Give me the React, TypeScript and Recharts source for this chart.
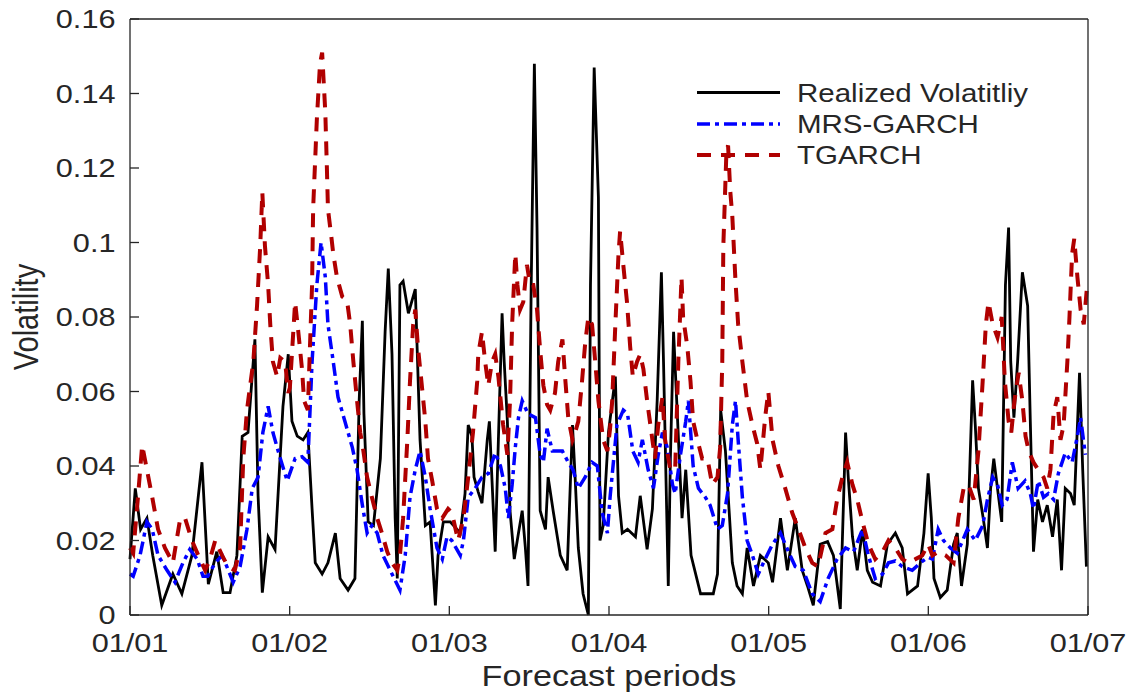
import React from 'react';
import { LineChart, Line, XAxis, YAxis } from 'recharts';

// axis ticks: day index from 01/01; the month ticks are evenly spaced in the figure
const monthTicks = [0, 30.17, 60.33, 90.5, 120.67, 150.83, 181];
const monthLabels = ['01/01', '01/02', '01/03', '01/04', '01/05', '01/06', '01/07'];
const volTicks = [0, 0.02, 0.04, 0.06, 0.08, 0.1, 0.12, 0.14, 0.16];
const volLabels = ['0', '0.02', '0.04', '0.06', '0.08', '0.1', '0.12', '0.14', '0.16'];

// Realized volatility
const rvDays = [
  0, 1, 2, 3.2, 4.3, 6, 8.1, 9.8, 11.7, 13.6, 14.8, 16.4, 17.6, 18.9, 20.2, 21.2, 22.3, 23.6, 24.2, 25,
  26.1, 27.4, 28.9, 29.9, 30.6, 31.6, 32.7, 33.6, 34.4, 35, 36.3, 37.4, 38.8, 39.7, 41.2, 42.5, 43.3, 43.9, 44.2, 45,
  46, 47.3, 48.2, 48.8, 49.5, 50.1, 50.5, 51, 51.6, 52.6, 53.9, 54.8, 55.8, 56.7, 57.7, 58.2, 59.2, 60.5, 62.4, 63.3,
  63.9, 64.6, 65, 65.8, 66.5, 67.5, 67.9, 68.4, 69, 69.6, 70.3, 70.7, 71.3, 71.8, 72.6, 73.4, 74.1, 74.7, 75.2, 75.8,
  76.4, 76.9, 77.5, 78.5, 79, 80, 81.3, 82.6, 83.6, 84.1, 84.7, 85.6, 86.6, 87, 87.7, 88.5, 88.8, 89.4, 90.4, 91.7,
  92.3, 93, 94, 95.5, 96.4, 97.7, 98.7, 99.6, 100.4, 100.8, 101.7, 102.1, 102.7, 104.3, 105, 106, 107.8, 110.2, 111, 111.6,
  112.5, 113.8, 114.7, 115.7, 116.6, 117.8, 119.1, 120.6, 121.4, 122.9, 124.2, 125.7, 127, 128, 129.1, 130.4, 131.8, 132.9, 134.2, 135.2,
  135.7, 136.5, 137.4, 138.4, 139.3, 140.3, 141.8, 143.1, 144.6, 145.9, 146.9, 148.8, 150, 150.8, 151.4, 151.9, 153.1, 154.4, 155.6, 156.3,
  157.1, 158.2, 159.2, 159.7, 160.3, 161.2, 162, 162.6, 163.2, 163.9, 164.7, 165.4, 166, 166.4, 167, 167.7, 168.6, 169.6, 170.1, 170.7,
  171.5, 172.4, 173.3, 174.3, 175.2, 176, 176.7, 177.7, 178.4, 179.4, 180, 180.7,
];
const rvValues = [
  0.015, 0.034, 0.023, 0.026, 0.016, 0.0026, 0.011, 0.0057, 0.016, 0.041, 0.0083, 0.017, 0.006, 0.006, 0.016, 0.048, 0.049, 0.074, 0.032, 0.006,
  0.021, 0.0176, 0.056, 0.07, 0.052, 0.048, 0.047, 0.049, 0.0285, 0.014, 0.011, 0.014, 0.022, 0.0098, 0.0067, 0.0098, 0.0575, 0.079, 0.054, 0.025,
  0.024, 0.042, 0.076, 0.093, 0.07, 0.026, 0.0098, 0.0886, 0.0896, 0.081, 0.0875, 0.047, 0.024, 0.025, 0.0026, 0.016, 0.025, 0.025, 0.022, 0.0326,
  0.051, 0.048, 0.037, 0.033, 0.03, 0.047, 0.052, 0.036, 0.017, 0.047, 0.081, 0.068, 0.052, 0.028, 0.015, 0.022, 0.028, 0.018, 0.0078, 0.0886,
  0.148, 0.104, 0.028, 0.023, 0.037, 0.0275, 0.016, 0.012, 0.051, 0.037, 0.018, 0.0057, 0, 0.0886, 0.147, 0.112, 0.02, 0.024, 0.049, 0.064,
  0.032, 0.022, 0.023, 0.021, 0.032, 0.0176, 0.0285, 0.0575, 0.092, 0.068, 0.0078, 0.042, 0.076, 0.026, 0.039, 0.016, 0.0057, 0.0057, 0.011, 0.055,
  0.044, 0.014, 0.0078, 0.0057, 0.018, 0.0078, 0.016, 0.014, 0.0088, 0.026, 0.012, 0.026, 0.012, 0.0078, 0.0026, 0.019, 0.0197, 0.016, 0.0016, 0.049,
  0.037, 0.021, 0.012, 0.023, 0.012, 0.0088, 0.0078, 0.019, 0.022, 0.018, 0.0057, 0.0078, 0.022, 0.038, 0.026, 0.0098, 0.0047, 0.0067, 0.019, 0.022,
  0.0078, 0.019, 0.063, 0.051, 0.034, 0.026, 0.018, 0.034, 0.042, 0.034, 0.025, 0.0886, 0.104, 0.068, 0.053, 0.068, 0.092, 0.083, 0.052, 0.017,
  0.031, 0.025, 0.0295, 0.021, 0.031, 0.012, 0.034, 0.0326, 0.0295, 0.065, 0.039, 0.013,
];

// MRS-GARCH forecast
const mrsDays = [
  0, 0.6, 1.9, 3.2, 4.2, 5.3, 7, 8.5, 10, 11.3, 12.7, 13.8, 14.7, 16.1, 17.4, 18.3, 19.5, 20.8, 22.1, 23.1,
  24.2, 25.1, 26.1, 27, 28.4, 29.7, 31.2, 32.5, 33.6, 34.4, 35.3, 36.1, 36.9, 37.4, 38.4, 39.3, 40.6, 42, 42.9, 43.9,
  44.8, 45.7, 46.7, 47.8, 49.5, 51, 52, 52.9, 53.9, 54.8, 55.8, 56.7, 58, 59, 59.9, 60.8, 62.4, 63, 63.9, 65.2,
  66.5, 67.7, 69, 70, 70.9, 71.5, 72.2, 72.8, 73.4, 74.1, 75.2, 76.6, 77.5, 78.1, 78.8, 79.8, 80.7, 81.7, 82.8, 83.7,
  84.7, 86, 87.3, 88.3, 89.2, 90.2, 90.7, 92, 93.2, 94, 95, 96, 96.8, 97.9, 98.9, 99.8, 100.6, 101.5, 102.5, 103,
  104, 105, 105.5, 106.4, 107.4, 108.7, 109.6, 111, 111.9, 112.9, 113.8, 114.4, 114.9, 115.7, 116.6, 117.6, 118.7, 120, 121.4, 122.9,
  124.4, 125.7, 127.2, 128.9, 130.4, 131.9, 133.6, 135.2, 136.7, 138.4, 139.5, 140.8, 142.2, 143.3, 144.6, 145.9, 147.8, 149.3, 150.8, 151.6,
  152.7, 153.7, 155, 156.3, 158.2, 159.7, 161.1, 162, 163, 163.9, 164.8, 165.7, 166.7, 167.8, 169.1, 170.1, 170.7, 171.6, 172.6, 173.5,
  174.5, 175.4, 176.7, 178, 179, 179.6, 180.5,
];
const mrsValues = [
  0.011, 0.0104, 0.016, 0.025, 0.023, 0.016, 0.012, 0.0088, 0.014, 0.0176, 0.015, 0.0104, 0.0104, 0.014, 0.016, 0.013, 0.0088, 0.013, 0.023, 0.034,
  0.037, 0.049, 0.056, 0.049, 0.042, 0.036, 0.042, 0.0425, 0.041, 0.068, 0.0886, 0.1, 0.0907, 0.078, 0.068, 0.0585, 0.052, 0.045, 0.039, 0.0295,
  0.022, 0.024, 0.022, 0.016, 0.011, 0.0067, 0.016, 0.0316, 0.039, 0.044, 0.037, 0.0285, 0.018, 0.015, 0.021, 0.02, 0.016, 0.02, 0.0316, 0.034,
  0.037, 0.038, 0.0435, 0.04, 0.034, 0.026, 0.035, 0.045, 0.053, 0.0575, 0.054, 0.053, 0.043, 0.041, 0.05, 0.044, 0.044, 0.044, 0.041, 0.039,
  0.034, 0.037, 0.041, 0.04, 0.0275, 0.022, 0.0316, 0.051, 0.055, 0.054, 0.044, 0.041, 0.047, 0.039, 0.034, 0.043, 0.049, 0.045, 0.035, 0.0326,
  0.043, 0.052, 0.0575, 0.04, 0.034, 0.0316, 0.0295, 0.023, 0.024, 0.0326, 0.051, 0.0575, 0.047, 0.0316, 0.02, 0.016, 0.011, 0.015, 0.019, 0.022,
  0.017, 0.013, 0.012, 0.0057, 0.0036, 0.0098, 0.015, 0.018, 0.017, 0.023, 0.016, 0.0098, 0.011, 0.014, 0.0145, 0.013, 0.012, 0.014, 0.0155, 0.015,
  0.023, 0.02, 0.018, 0.0166, 0.023, 0.02, 0.024, 0.031, 0.037, 0.035, 0.0295, 0.031, 0.041, 0.034, 0.036, 0.0326, 0.0285, 0.036, 0.0316, 0.0326,
  0.031, 0.038, 0.0435, 0.041, 0.048, 0.053, 0.043,
];

// TGARCH forecast
const tgDays = [
  0, 0.6, 1.5, 2.3, 3.2, 4.2, 5.3, 6.6, 8.1, 9.5, 10.4, 11.7, 12.9, 14.2, 15.1, 16.1, 17.4, 18.5, 19.8, 20.8,
  21.4, 22.1, 22.7, 23.3, 24, 24.6, 25, 25.5, 26.1, 26.5, 27, 27.8, 28.4, 29.3, 29.9, 30.2, 31.2, 31.8, 32.5, 32.9,
  33.6, 34, 34.4, 34.6, 35.3, 35.9, 36.3, 36.9, 37.2, 37.4, 38, 38.4, 39.1, 40.1, 41, 41.6, 42.2, 42.9, 43.5, 44.1,
  44.8, 45.7, 46.7, 47.6, 48.6, 49.5, 50.5, 51, 51.6, 52.4, 52.9, 53.5, 53.9, 54.4, 55.2, 55.8, 56.3, 57.1, 58, 59,
  60.1, 60.8, 62, 63, 63.9, 64.8, 65.6, 65.8, 66.5, 67.1, 67.7, 68.4, 69, 69.6, 70.5, 71.3, 71.8, 72.2, 72.8, 73.2,
  73.7, 74.3, 75, 75.6, 76.2, 76.9, 77.5, 78.1, 78.8, 79.4, 80.3, 80.9, 81.7, 82.2, 82.8, 83.6, 84.1, 84.7, 85.4, 86,
  86.6, 87.3, 87.9, 88.5, 89.4, 90.2, 90.7, 91.1, 91.7, 92.3, 92.6, 93.2, 93.9, 94.5, 95, 95.8, 96.4, 97, 97.7, 98.7,
  99.2, 99.8, 100.6, 101.1, 102.1, 103, 103.6, 104.2, 104.5, 105.3, 105.9, 106.4, 107.2, 108.1, 109.1, 110, 111, 111.5, 111.9, 112.1,
  112.7, 113, 113.4, 113.8, 114.4, 114.9, 115.7, 116.6, 117.6, 118.5, 119.1, 120, 120.6, 121.4, 122.5, 123.8, 125.1, 126.3, 127.6, 128.9,
  130, 131.4, 132.7, 133.6, 134.6, 135.5, 136.5, 137.4, 138.4, 139.5, 140.8, 142.2, 143.3, 144.6, 145.9, 147.1, 148.4, 149.7, 150.8, 151.6,
  152.7, 154.1, 155.6, 156.5, 157.5, 158.4, 159.4, 160.3, 161.1, 161.7, 162.2, 163, 163.9, 164.7, 165.3, 166, 166.5, 167.1, 167.9, 168.6,
  169.2, 169.8, 170.7, 171.6, 172.6, 173.3, 173.9, 174.5, 175.2, 175.8, 176.4, 177.1, 177.5, 178, 178.4, 179, 179.6, 180.2, 180.9,
];
const tgValues = [
  0.018, 0.0166, 0.0316, 0.0456, 0.039, 0.0316, 0.023, 0.018, 0.014, 0.026, 0.026, 0.02, 0.016, 0.012, 0.015, 0.02, 0.016, 0.013, 0.012, 0.018,
  0.042, 0.055, 0.0616, 0.068, 0.083, 0.099, 0.1135, 0.099, 0.0886, 0.078, 0.068, 0.064, 0.069, 0.068, 0.0596, 0.061, 0.084, 0.076, 0.066, 0.0575,
  0.055, 0.072, 0.0886, 0.109, 0.133, 0.148, 0.151, 0.135, 0.12, 0.109, 0.102, 0.097, 0.0907, 0.0855, 0.0845, 0.078, 0.068, 0.0575, 0.049, 0.044,
  0.037, 0.0316, 0.026, 0.022, 0.017, 0.014, 0.012, 0.016, 0.026, 0.047, 0.0627, 0.078, 0.082, 0.072, 0.0607, 0.052, 0.042, 0.036, 0.0285, 0.026,
  0.0285, 0.0275, 0.02, 0.026, 0.037, 0.049, 0.0627, 0.07, 0.076, 0.068, 0.0616, 0.068, 0.07, 0.064, 0.051, 0.043, 0.0575, 0.078, 0.097, 0.0886,
  0.082, 0.084, 0.094, 0.0886, 0.0886, 0.082, 0.071, 0.0616, 0.0565, 0.055, 0.0596, 0.068, 0.074, 0.064, 0.053, 0.047, 0.049, 0.052, 0.0627, 0.073,
  0.08, 0.078, 0.068, 0.0575, 0.047, 0.044, 0.05, 0.0575, 0.078, 0.097, 0.103, 0.094, 0.084, 0.072, 0.064, 0.068, 0.07, 0.066, 0.0575, 0.047,
  0.042, 0.051, 0.0585, 0.047, 0.039, 0.039, 0.068, 0.0907, 0.08, 0.072, 0.0627, 0.052, 0.047, 0.042, 0.042, 0.035, 0.037, 0.045, 0.068, 0.099,
  0.125, 0.126, 0.114, 0.107, 0.0896, 0.078, 0.068, 0.0575, 0.051, 0.046, 0.039, 0.053, 0.06, 0.047, 0.04, 0.034, 0.0275, 0.023, 0.018, 0.014,
  0.013, 0.022, 0.023, 0.031, 0.037, 0.041, 0.035, 0.031, 0.025, 0.019, 0.015, 0.017, 0.02, 0.018, 0.015, 0.014, 0.015, 0.016, 0.019, 0.016,
  0.017, 0.016, 0.014, 0.026, 0.034, 0.035, 0.031, 0.044, 0.0627, 0.078, 0.084, 0.078, 0.0745, 0.08, 0.0627, 0.052, 0.049, 0.0575, 0.065, 0.0575,
  0.048, 0.044, 0.041, 0.039, 0.037, 0.034, 0.039, 0.054, 0.0585, 0.047, 0.051, 0.068, 0.08, 0.097, 0.101, 0.0907, 0.082, 0.078, 0.0896,
];

const toRows = (days: number[], values: number[]) => days.map((day, i) => ({ day, v: values[i] }));
const rvData = toRows(rvDays, rvValues);
const mrsData = toRows(mrsDays, mrsValues);
const tgData = toRows(tgDays, tgValues);

const INK = '#262626';
const FONT = '"Liberation Sans", Arial, Helvetica, sans-serif';
const SX = 1.18; // the figure is a bit wider than tall
const TICK = 9;

const BottomTick = (props: any) => {
  const { x, y, payload } = props;
  const label = monthLabels[monthTicks.indexOf(payload.value)];
  return (
    <g>
      <line x1={x} y1={y} x2={x} y2={y - TICK} stroke={INK} strokeWidth={1.3} />
      <text transform={`translate(${x},${y + 37}) scale(${SX},1)`} textAnchor="middle" fontSize={26} fill={INK}>
        {label}
      </text>
    </g>
  );
};

const TopTick = (props: any) => {
  const { x, y } = props;
  return <line x1={x} y1={y} x2={x} y2={y + TICK} stroke={INK} strokeWidth={1.3} />;
};

const LeftTick = (props: any) => {
  const { x, y, payload } = props;
  const label = volLabels[volTicks.indexOf(payload.value)];
  return (
    <g>
      <line x1={x} y1={y} x2={x + TICK} y2={y} stroke={INK} strokeWidth={1.3} />
      <text transform={`translate(${x - 14.5},${y + 9.3}) scale(${SX},1)`} textAnchor="end" fontSize={26} fill={INK}>
        {label}
      </text>
    </g>
  );
};

const RightTick = (props: any) => {
  const { x, y } = props;
  return <line x1={x} y1={y} x2={x - TICK} y2={y} stroke={INK} strokeWidth={1.3} />;
};

const XTitle = (props: any) => {
  const { viewBox } = props;
  const cx = viewBox.x + viewBox.width / 2;
  return (
    <text transform={`translate(${cx},${viewBox.y + 71}) scale(${SX},1)`} textAnchor="middle" fontSize={29} fill={INK}>
      Forecast periods
    </text>
  );
};

const YTitle = (props: any) => {
  const { viewBox } = props;
  const cy = viewBox.y + viewBox.height / 2;
  return (
    <text transform={`translate(${viewBox.x + 38},${cy}) scale(${SX},1) rotate(-90)`} textAnchor="middle" fontSize={29} fill={INK}>
      Volatility
    </text>
  );
};

const legendRows = [
  { name: 'Realized Volatitliy', color: '#000000', width: 2.8, dash: undefined, y: 92.5 },
  { name: 'MRS-GARCH', color: '#0000ff', width: 3.5, dash: '13 5 4 5', y: 124 },
  { name: 'TGARCH', color: '#b00000', width: 4, dash: '14 10', y: 155 },
];

const KeyBox = () => (
  <svg width={1133} height={693} style={{ position: 'absolute', left: 0, top: 0, pointerEvents: 'none', fontFamily: FONT }}>
    {legendRows.map((r) => (
      <g key={r.name}>
        <line x1={697} y1={r.y} x2={780} y2={r.y} stroke={r.color} strokeWidth={r.width} strokeDasharray={r.dash} />
        <text transform={`translate(797,${r.y + 9}) scale(${SX},1)`} fontSize={25} fill={INK}>
          {r.name}
        </text>
      </g>
    ))}
  </svg>
);

export default function App() {
  return (
    <div style={{ position: 'absolute', left: 0, top: 0, width: 1133, height: 693, background: '#fff', fontFamily: FONT }}>
      <LineChart width={1133} height={693} margin={{ top: 18, right: 44, bottom: 0, left: 0 }} style={{ fontFamily: FONT }}>
        <XAxis
          dataKey="day"
          type="number"
          domain={[0, 181]}
          ticks={monthTicks}
          interval={0}
          height={78}
          tickSize={0}
          tickMargin={0}
          tickLine={false}
          axisLine={{ stroke: INK, strokeWidth: 1.3 }}
          tick={<BottomTick />}
          label={<XTitle />}
        />
        <XAxis
          xAxisId="top"
          orientation="top"
          dataKey="day"
          type="number"
          domain={[0, 181]}
          ticks={monthTicks}
          interval={0}
          height={1}
          tickSize={0}
          tickMargin={0}
          tickLine={false}
          axisLine={{ stroke: INK, strokeWidth: 1.3 }}
          tick={<TopTick />}
        />
        <YAxis
          type="number"
          domain={[0, 0.16]}
          ticks={volTicks}
          interval={0}
          width={130}
          tickSize={0}
          tickMargin={0}
          tickLine={false}
          axisLine={{ stroke: INK, strokeWidth: 1.3 }}
          tick={<LeftTick />}
          label={<YTitle />}
        />
        <YAxis
          yAxisId="right"
          orientation="right"
          type="number"
          domain={[0, 0.16]}
          ticks={volTicks}
          interval={0}
          width={1}
          tickSize={0}
          tickMargin={0}
          tickLine={false}
          axisLine={{ stroke: INK, strokeWidth: 1.3 }}
          tick={<RightTick />}
        />
        <Line data={rvData} dataKey="v" name="Realized Volatitliy" type="linear" stroke="#000000" strokeWidth={2.8} dot={false} isAnimationActive={false} />
        <Line data={mrsData} dataKey="v" name="MRS-GARCH" type="linear" stroke="#0000ff" strokeWidth={3.5} strokeDasharray="13 5 4 5" dot={false} isAnimationActive={false} />
        <Line data={tgData} dataKey="v" name="TGARCH" type="linear" stroke="#b00000" strokeWidth={4} strokeDasharray="14 10" dot={false} isAnimationActive={false} />
      </LineChart>
      <KeyBox />
    </div>
  );
}
